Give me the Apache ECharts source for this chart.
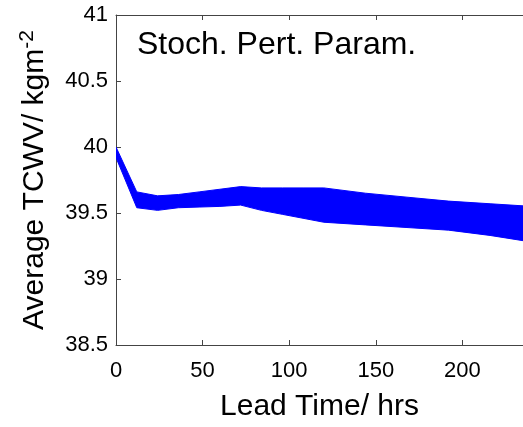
<!DOCTYPE html>
<html>
<head>
<meta charset="utf-8">
<script src="https://cdn.jsdelivr.net/npm/echarts@6/dist/echarts.min.js"></script>
<style>html,body{margin:0;padding:0;background:#fff;}#c{width:523px;height:427px;}</style>
</head>
<body>
<div id="c"></div>
<script>
const leadTimes = [0, 12, 24, 36, 48, 60, 72, 84, 96, 108, 120, 144, 168, 192, 216, 240];
const upperTCWV = [40.0, 39.66, 39.63, 39.64, 39.66, 39.68, 39.70, 39.69, 39.69, 39.69, 39.69, 39.65, 39.62, 39.59, 39.57, 39.55];
const lowerTCWV = [39.92, 39.54, 39.52, 39.54, 39.545, 39.55, 39.56, 39.52, 39.49, 39.46, 39.43, 39.41, 39.39, 39.37, 39.33, 39.28];
const xTicks = [0, 50, 100, 150, 200];
const yTicks = [38.5, 39, 39.5, 40, 40.5, 41];
const panelTitle = 'Stoch. Pert. Param.';

const FONT = '"Liberation Sans", Arial, Helvetica, sans-serif';
const BLUE = '#0000ff';
const AXC = '#444444';

const bandData = leadTimes.map((t, i) => [t, lowerTCWV[i], upperTCWV[i]]);

function renderBand(params, api) {
  if (params.dataIndex !== 0) return null;
  const top = [], bottom = [];
  for (let i = 0; i < bandData.length; i++) {
    top.push(api.coord([bandData[i][0], bandData[i][2]]));
    bottom.push(api.coord([bandData[i][0], bandData[i][1]]));
  }
  const pts = top.concat(bottom.reverse());
  return {
    type: 'polygon',
    shape: {points: pts},
    style: {fill: BLUE, stroke: BLUE, lineWidth: 1},
    clipPath: {
      type: 'rect',
      shape: {x: params.coordSys.x, y: params.coordSys.y, width: params.coordSys.width, height: params.coordSys.height}
    }
  };
}

const chart = echarts.init(document.getElementById('c'), null, {renderer: 'canvas'});
chart.setOption({
  animation: false,
  backgroundColor: '#ffffff',
  title: {
    text: panelTitle,
    left: 132, top: 24,
    textStyle: {fontFamily: FONT, fontSize: 32, fontWeight: 'normal', color: '#000'}
  },
  grid: {left: 116, top: 15, bottom: 75, right: 0, containLabel: false},
  xAxis: [{
    type: 'value', min: 0, max: 235, interval: 50,
    name: 'Lead Time/ hrs', nameLocation: 'middle', nameGap: 47,
    nameTextStyle: {fontFamily: FONT, fontSize: 30, color: '#000'},
    axisLine: {show: true, onZero: false, lineStyle: {color: AXC, width: 1}},
    axisTick: {show: true, inside: true, length: 5, lineStyle: {color: AXC}},
    axisLabel: {fontFamily: FONT, fontSize: 22, color: '#000', margin: 15, showMaxLabel: false,
      formatter: v => xTicks.includes(v) ? String(v) : ''},
    splitLine: {show: false}
  }, {
    type: 'value', position: 'top', min: 0, max: 235, interval: 50,
    axisLine: {show: true, onZero: false, lineStyle: {color: AXC, width: 1}},
    axisTick: {show: true, inside: true, length: 5, lineStyle: {color: AXC}},
    axisLabel: {show: false},
    splitLine: {show: false}
  }],
  yAxis: [{
    type: 'value', min: 38.5, max: 41, interval: 0.5,
    name: '{m|Average TCWV/ kgm}{s|-2}', nameLocation: 'middle', nameGap: 64,
    nameTextStyle: {
      fontFamily: FONT, fontSize: 30, color: '#000',
      rich: {
        m: {fontFamily: FONT, fontSize: 30, color: '#000'},
        s: {fontFamily: FONT, fontSize: 21, color: '#000', verticalAlign: 'top', padding: [0, 0, 14, 0]}
      }
    },
    axisLine: {show: true, onZero: false, lineStyle: {color: AXC, width: 1}},
    axisTick: {show: true, inside: true, length: 5, lineStyle: {color: AXC}},
    axisLabel: {fontFamily: FONT, fontSize: 22, color: '#000', margin: 8, padding: [0, 0, 0, 0],
      formatter: v => { const t = yTicks.find(k => Math.abs(k - v) < 1e-6); return t === undefined ? '' : String(t); }},
    splitLine: {show: false}
  }],
  series: [{
    type: 'custom',
    name: 'Stoch. Pert. Param.',
    renderItem: renderBand,
    data: bandData,
    encode: {x: 0, y: [1, 2]},
    clip: true,
    z: 2
  }]
});
</script>
</body>
</html>
